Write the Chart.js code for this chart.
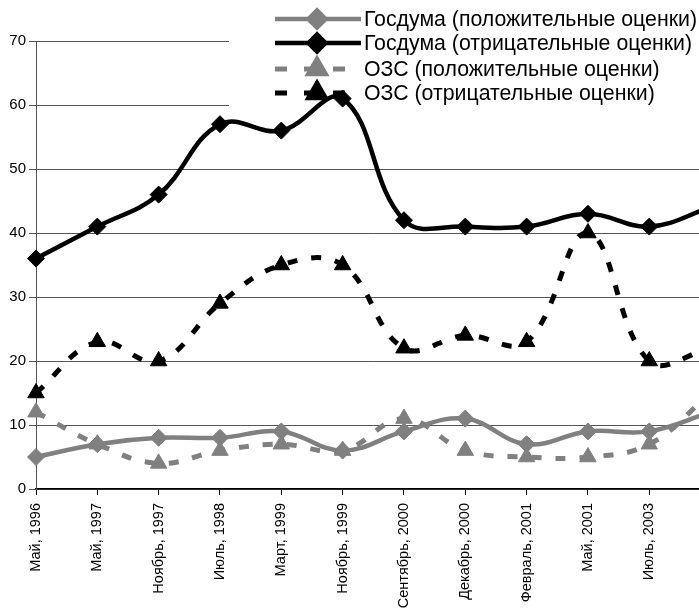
<!DOCTYPE html>
<html>
<head>
<meta charset="utf-8">
<script src="https://cdn.jsdelivr.net/npm/chart.js@4.4.1/dist/chart.umd.min.js"></script>
<style>
  html, body { margin: 0; padding: 0; background: #fff; overflow: hidden; }
  #wrap { position: relative; width: 736px; height: 612px; }
</style>
</head>
<body>
<div id="wrap"><canvas id="chart"></canvas></div>
<script>
// периоды опроса (последний выходит за край картинки)
const periods = ['Май, 1996', 'Май, 1997', 'Ноябрь, 1997', 'Июль, 1998', 'Март, 1999', 'Ноябрь, 1999',
  'Сентябрь, 2000', 'Декабрь, 2000', 'Февраль, 2001', 'Май, 2001', 'Июль, 2003', 'Декабрь, 2003'];

const dumaPositive = [5, 7, 8, 8, 9, 6, 9, 11, 7, 9, 9, 12];
const dumaNegative = [36, 41, 46, 57, 56, 61, 42, 41, 41, 43, 41, 44];
const ozsPositive = [12, 7, 4, 6, 7, 6, 11, 6, 5, 5, 7, 15];
const ozsNegative = [15, 23, 20, 29, 35, 35, 22, 24, 23, 40, 20, 22];

const yTicks = [0, 10, 20, 30, 40, 50, 60, 70];

const GRAY = '#808080';
const BLACK = '#000000';

function makeSeries(label, data, color, dashed, style, radius) {
    return {
        label: label,
        data: data,
        borderColor: color,
        backgroundColor: color,
        borderWidth: dashed ? 5 : 4.5,
        borderDash: dashed ? [10, 14] : [],
        pointStyle: style,
        pointRadius: radius,
        pointBackgroundColor: color,
        pointBorderColor: color,
        pointBorderWidth: 1,
        tension: 0.4,
        clip: false
    };
}

const datasets = [
    makeSeries('Госдума (положительные оценки)', dumaPositive, GRAY, false, 'rectRot', 8.5),
    makeSeries('Госдума (отрицательные оценки)', dumaNegative, BLACK, false, 'rectRot', 8.5),
    makeSeries('ОЗС (положительные оценки)', ozsPositive, GRAY, true, 'triangle', 9.5),
    makeSeries('ОЗС (отрицательные оценки)', ozsNegative, BLACK, true, 'triangle', 9.5)
];

// легенда поверх сетки, но под линиями
const boxLegend = {
    id: 'boxLegend',
    beforeDatasetsDraw(chart) {
        const ctx = chart.ctx;
        const rows = [19, 43, 69, 93];
        ctx.save();
        ctx.fillStyle = '#fff';
        ctx.fillRect(229, 0, chart.width - 229, 112);
        chart.data.datasets.forEach((ds, i) => {
            const y = rows[i];
            ctx.strokeStyle = ds.borderColor;
            ctx.lineWidth = ds.borderWidth;
            ctx.setLineDash(ds.borderDash.length ? [12, 17] : []);
            ctx.beginPath();
            ctx.moveTo(275, y);
            ctx.lineTo(361, y);
            ctx.stroke();
            ctx.setLineDash([]);
            ctx.fillStyle = ds.borderColor;
            Chart.helpers.drawPoint(ctx, {pointStyle: ds.pointStyle, radius: ds.pointRadius, borderWidth: 1}, 317, y);
            ctx.fill();
            ctx.fillStyle = '#000';
            ctx.font = '21.3px "Liberation Sans", Arial, sans-serif';
            ctx.textBaseline = 'middle';
            ctx.fillText(ds.label, 364, y + 1);
        });
        ctx.restore();
    }
};

const ctx = document.getElementById('chart').getContext('2d');
new Chart(ctx, {
    type: 'line',
    data: { labels: periods, datasets: datasets },
    plugins: [boxLegend],
    options: {
        responsive: true,
        maintainAspectRatio: false,
        animation: false,
        layout: { padding: { top: 41, right: 13, left: 0, bottom: 0 } },
        plugins: {
            legend: { display: false },
            tooltip: { enabled: false }
        },
        scales: {
            x: {
                offset: false,
                afterFit(scale) { scale.height = 123; },
                border: { color: '#000', width: 1.5 },
                grid: { drawOnChartArea: false, color: '#000', tickColor: '#000', tickLength: 6 },
                ticks: {
                    color: '#000',
                    autoSkip: false,
                    minRotation: 90,
                    maxRotation: 90,
                    padding: 8,
                    font: { family: '"Liberation Sans", Arial, sans-serif', size: 14.5 }
                }
            },
            y: {
                min: 0,
                max: 70,
                afterFit(scale) { scale.width = 36; },
                afterBuildTicks(scale) { scale.ticks = yTicks.map(v => ({ value: v })); },
                border: { color: '#555', width: 1 },
                grid: { color: '#555', tickColor: '#555', tickLength: 7, lineWidth: 1 },
                ticks: {
                    color: '#000',
                    padding: 3,
                    font: { family: '"Liberation Sans", Arial, sans-serif', size: 15 }
                }
            }
        }
    }
});
</script>
</body>
</html>
